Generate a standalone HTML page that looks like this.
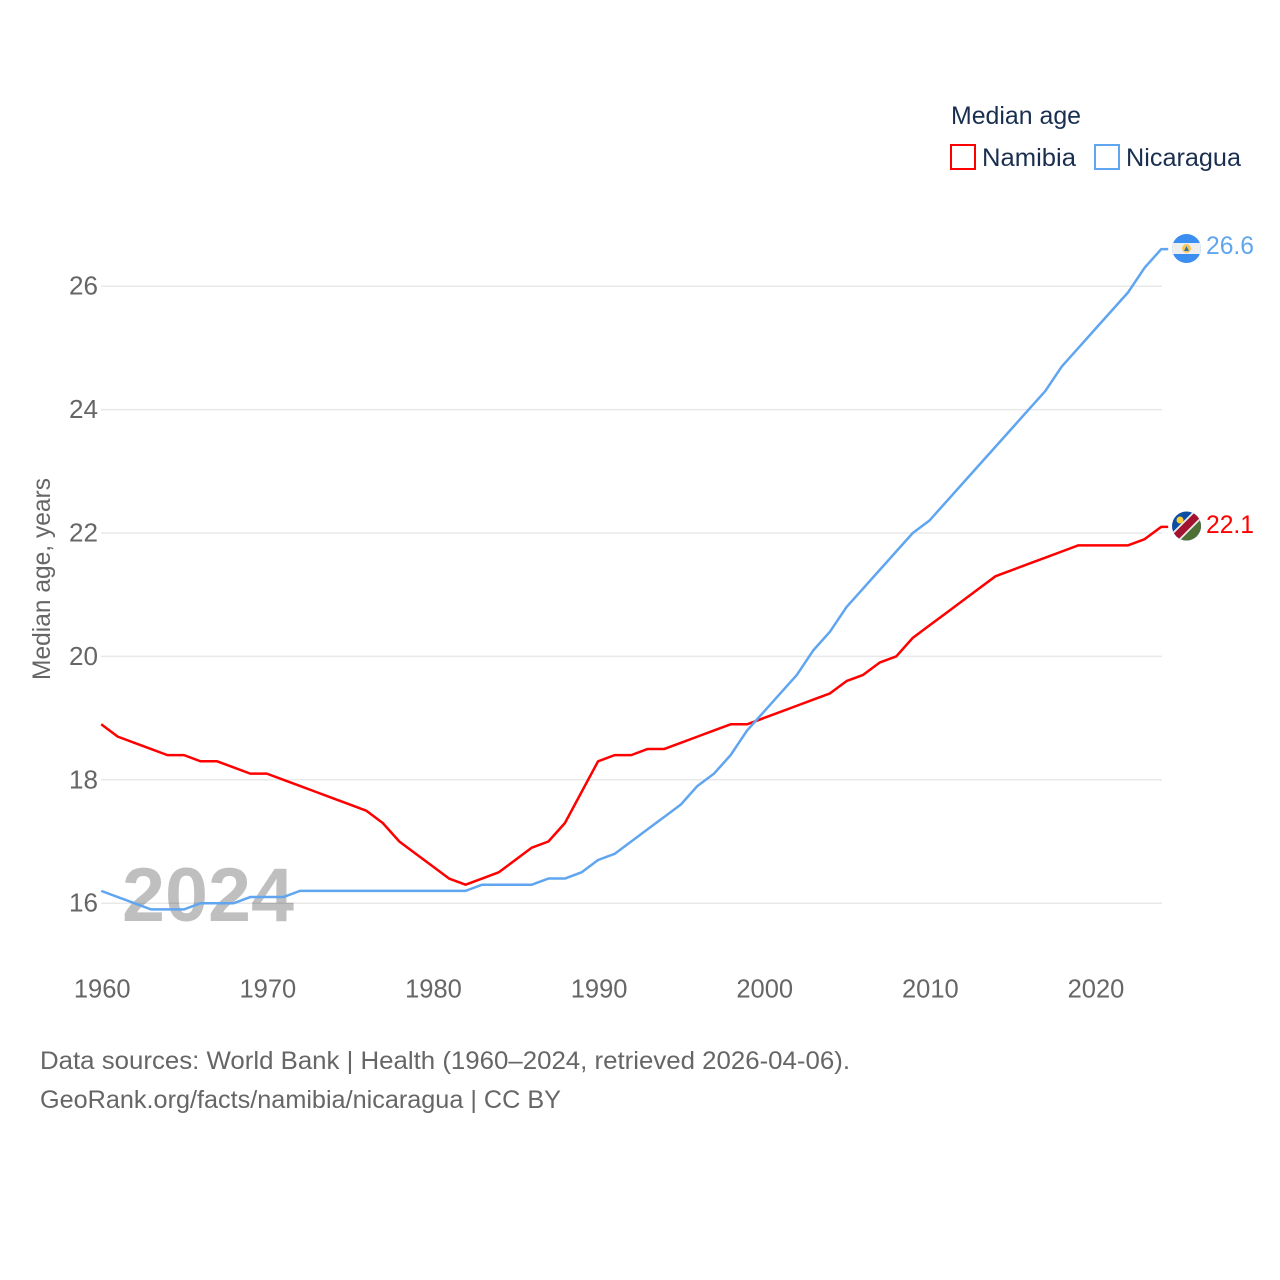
<!DOCTYPE html>
<html lang="en">
<head>
<meta charset="utf-8">
<title>Median age: Namibia vs Nicaragua</title>
<style>
html,body{margin:0;padding:0;background:#fff;width:1280px;height:1280px;overflow:hidden}
svg{display:block}
text{font-family:"Liberation Sans",sans-serif}
</style>
</head>
<body>
<svg id="chart" xmlns="http://www.w3.org/2000/svg" width="1280" height="1280" viewBox="0 0 1280 1280">
  <rect width="1280" height="1280" fill="#ffffff"/>
  <g id="grid"></g>
  <text x="122" y="921" font-size="76" font-weight="700" fill="#000" fill-opacity="0.25" textLength="172" lengthAdjust="spacingAndGlyphs">2024</text>
  <g id="yticks"></g>
  <g id="xticks"></g>
  <text transform="translate(50,680) rotate(-90)" font-size="25" fill="#666666" textLength="202" lengthAdjust="spacingAndGlyphs">Median age, years</text>
  <g id="series"></g>

  <text x="951" y="124" font-size="25" fill="#1a2f50" textLength="130" lengthAdjust="spacingAndGlyphs">Median age</text>
  <rect x="951" y="145" width="24" height="24" fill="none" stroke="#ff0000" stroke-width="2"/>
  <text x="982" y="166" font-size="25" fill="#1a2f50" textLength="94" lengthAdjust="spacingAndGlyphs">Namibia</text>
  <rect x="1095" y="145" width="24" height="24" fill="none" stroke="#60a5f0" stroke-width="2"/>
  <text x="1126" y="166" font-size="25" fill="#1a2f50" textLength="115" lengthAdjust="spacingAndGlyphs">Nicaragua</text>

  <defs>
    <clipPath id="clip-nic"><circle cx="1186.500" cy="248.500" r="14.500"/></clipPath>
    <clipPath id="clip-nam"><circle cx="1186.500" cy="526" r="14.500"/></clipPath>
  </defs>
  <g clip-path="url(#clip-nic)">
    <rect x="1171" y="233" width="31" height="31" fill="#3a8ef0"/>
    <rect x="1171" y="243" width="31" height="11" fill="#eeeeee"/>
    <circle cx="1186.500" cy="248.500" r="4.500" fill="#f5c85a"/>
    <path d="M1184 251 L1186.500 246 L1189 251 Z" fill="#3a6ea5"/>
  </g>
  <g clip-path="url(#clip-nam)">
    <rect x="1171" y="511" width="31" height="30" fill="#0b4ea2"/>
    <path d="M1171 541 L1202 541 L1202 511 Z" fill="#4f7034"/>
    <path d="M1171.500 541 L1201.500 511" stroke="#eeeeee" stroke-width="11" fill="none"/>
    <path d="M1171.500 541 L1201.500 511" stroke="#a3122f" stroke-width="7.500" fill="none"/>
    <circle cx="1180" cy="520" r="3.500" fill="#f5cf3a"/>
  </g>
  <text x="1206" y="254" font-size="25" fill="#60a5f0" textLength="48" lengthAdjust="spacingAndGlyphs">26.6</text>
  <text x="1206" y="533" font-size="25" fill="#ff0000" textLength="48" lengthAdjust="spacingAndGlyphs">22.1</text>

  <text x="40" y="1069" font-size="25" fill="#666666" textLength="810" lengthAdjust="spacingAndGlyphs">Data sources: World Bank | Health (1960–2024, retrieved 2026-04-06).</text>
  <text x="40" y="1108" font-size="25" fill="#666666" textLength="521" lengthAdjust="spacingAndGlyphs">GeoRank.org/facts/namibia/nicaragua | CC BY</text>
</svg>
<script>
const startYear = 1960;
const xTickLabels = [1960, 1970, 1980, 1990, 2000, 2010, 2020];
const yTickLabels = [16, 18, 20, 22, 24, 26];
const namibia = [18.9,18.7,18.6,18.5,18.4,18.4,18.3,18.3,18.2,18.1,18.1,18.0,17.9,17.8,17.7,17.6,17.5,17.3,17.0,16.8,16.6,16.4,16.3,16.4,16.5,16.7,16.9,17.0,17.3,17.8,18.3,18.4,18.4,18.5,18.5,18.6,18.7,18.8,18.9,18.9,19.0,19.1,19.2,19.3,19.4,19.6,19.7,19.9,20.0,20.3,20.5,20.7,20.9,21.1,21.3,21.4,21.5,21.6,21.7,21.8,21.8,21.8,21.8,21.9,22.1];
const nicaragua = [16.2,16.1,16.0,15.9,15.9,15.9,16.0,16.0,16.0,16.1,16.1,16.1,16.2,16.2,16.2,16.2,16.2,16.2,16.2,16.2,16.2,16.2,16.2,16.3,16.3,16.3,16.3,16.4,16.4,16.5,16.7,16.8,17.0,17.2,17.4,17.6,17.9,18.1,18.4,18.8,19.1,19.4,19.7,20.1,20.4,20.8,21.1,21.4,21.7,22.0,22.2,22.5,22.8,23.1,23.4,23.7,24.0,24.3,24.7,25.0,25.3,25.6,25.9,26.3,26.6];

const NS = 'http://www.w3.org/2000/svg';
const xScale = function (year) { return 101.2 + (year - 1960) * (1060 / 64); };
const yScale = function (v) { return 903.2 - (v - 16) * 61.7; };

const gridGroup = document.getElementById('grid');
const yGroup = document.getElementById('yticks');
const xGroup = document.getElementById('xticks');
const seriesGroup = document.getElementById('series');

yTickLabels.forEach(function (v) {
  const line = document.createElementNS(NS, 'line');
  
  
  line.setAttribute('x1', 101);
  line.setAttribute('x2', 1162);
  line.setAttribute('y1', yScale(v));
  line.setAttribute('y2', yScale(v));
  line.setAttribute('stroke', '#e8e8e8');
  line.setAttribute('stroke-width', '1.5');
  gridGroup.appendChild(line);

  const label = document.createElementNS(NS, 'text');
  
  
  label.setAttribute('x', 69);
  label.setAttribute('y', yScale(v) + 8.5);
  label.setAttribute('font-size', '25.500');
  label.setAttribute('fill', '#666666');
  label.setAttribute('textLength', '29');
  label.setAttribute('lengthAdjust', 'spacingAndGlyphs');
  label.textContent = String(v);
  yGroup.appendChild(label);
});

xTickLabels.forEach(function (year) {
  const label = document.createElementNS(NS, 'text');
  
  
  label.setAttribute('x', xScale(year) + 1);
  label.setAttribute('y', 997.5);
  label.setAttribute('text-anchor', 'middle');
  label.setAttribute('font-size', '25.500');
  label.setAttribute('fill', '#666666');
  label.textContent = String(year);
  xGroup.appendChild(label);
});

function buildPoints(values) {
  const pts = values.map(function (v, i) {
    return xScale(startYear + i).toFixed(2) + ',' + yScale(v).toFixed(2);
  });
  const last = values[values.length - 1];
  pts.push((xScale(startYear + values.length - 1) + 7).toFixed(2) + ',' + yScale(last).toFixed(2));
  return pts.join(' ');
}

const namibiaLine = document.createElementNS(NS, 'polyline');


namibiaLine.setAttribute('points', buildPoints(namibia));
namibiaLine.setAttribute('fill', 'none');
namibiaLine.setAttribute('stroke', '#ff0000');
namibiaLine.setAttribute('stroke-width', '2.500');
namibiaLine.setAttribute('stroke-linejoin', 'round');
seriesGroup.appendChild(namibiaLine);

const nicaraguaLine = document.createElementNS(NS, 'polyline');


nicaraguaLine.setAttribute('points', buildPoints(nicaragua));
nicaraguaLine.setAttribute('fill', 'none');
nicaraguaLine.setAttribute('stroke', '#60a5f0');
nicaraguaLine.setAttribute('stroke-width', '2.500');
nicaraguaLine.setAttribute('stroke-linejoin', 'round');
seriesGroup.appendChild(nicaraguaLine);
</script>
</body>
</html>
